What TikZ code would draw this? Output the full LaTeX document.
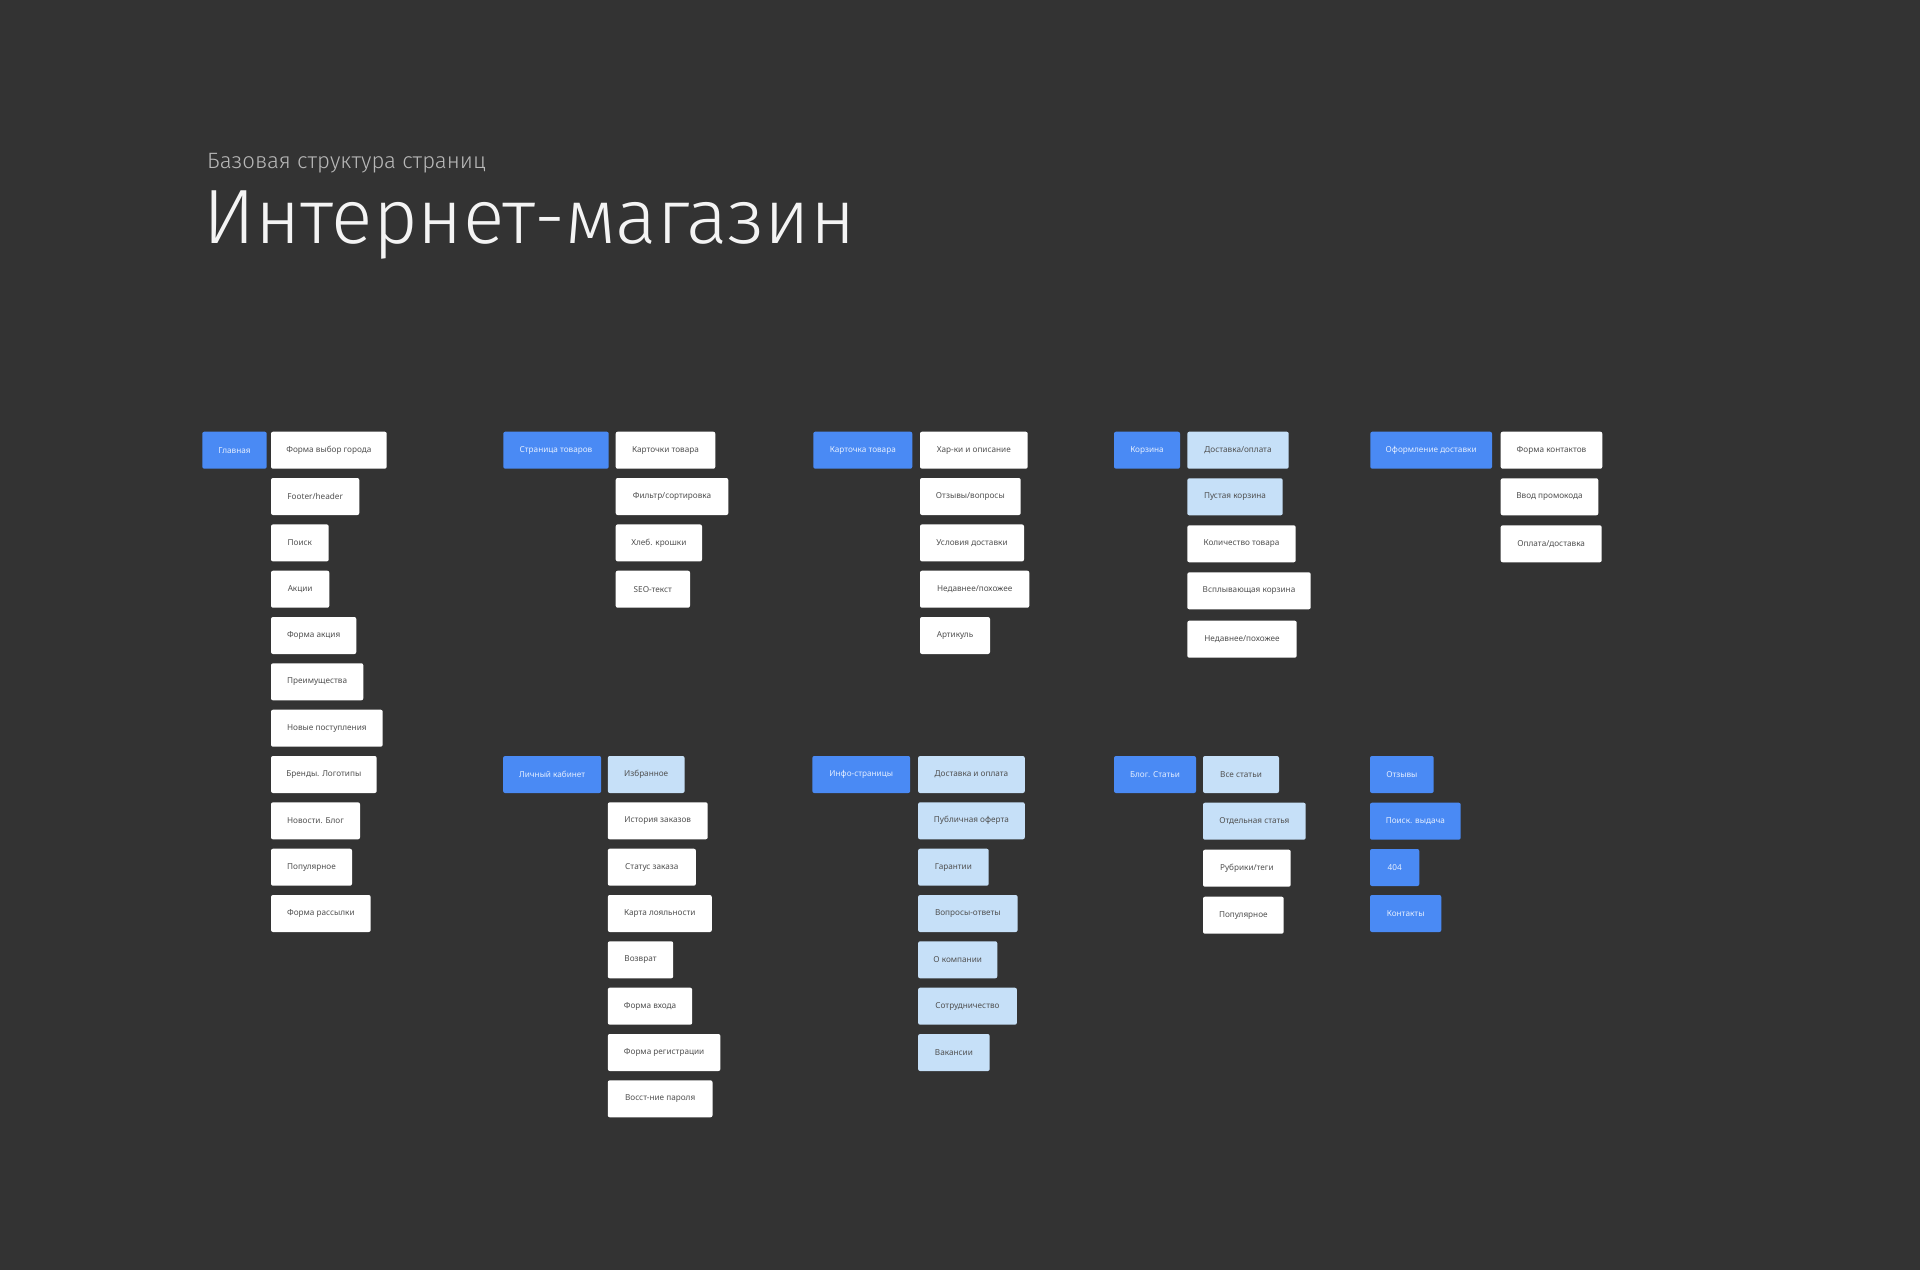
\documentclass[tikz,border=0pt]{standalone}
\usepackage{fontspec}
\setmainfont{Noto Sans}
\newfontfamily\titlefont{Fira Sans Light}
\definecolor{bg}{HTML}{333333}
\definecolor{mainblue}{HTML}{4A8AF4}
\definecolor{lightblue}{HTML}{C6E0F8}
\definecolor{boxtext}{HTML}{505050}
\definecolor{bluetext}{HTML}{E4EEFF}
\definecolor{subtext}{HTML}{B8B8B8}
\definecolor{titletext}{HTML}{F4F4F4}
\newcommand\bx[6]{\node[#2, minimum width={(#4-#3)*1pt}, anchor=north west] (#1) at (#3,#5+1) {#6};}
\begin{document}
\begin{tikzpicture}[x=1pt,y=-1pt,
  box/.style={rectangle, rounded corners=2pt, minimum height=37pt, inner sep=0pt, outer sep=0pt,
    font=\fontsize{8.2}{10}\selectfont, text=boxtext},
  mainbox/.style={box, fill=mainblue, text=bluetext},
  lightbox/.style={box, fill=lightblue},
  whitebox/.style={box, fill=white}]
\fill[bg] (0,0) rectangle (1920,1270);
\useasboundingbox (0,0) rectangle (1920,1270);

\node[anchor=base west, text=subtext, font=\titlefont\fontsize{22.2}{26}\selectfont, inner sep=0pt] (subtitle) at (207,168) {Базовая структура страниц};
\node[anchor=base west, text=titletext, font=\titlefont\fontsize{77}{82}\selectfont, inner sep=0pt] (title) at (203,243) {Интернет-магазин};

% Column 1: Главная
\bx{glav}{mainbox}{202.3}{266.7}{430.7}{Главная}
\bx{g0}{whitebox}{271}{386.7}{430.7}{Форма выбор города}
\bx{g1}{whitebox}{271}{359.3}{477.0}{Footer/header}
\bx{g2}{whitebox}{271}{328.7}{523.4}{Поиск}
\bx{g3}{whitebox}{271}{329.3}{569.7}{Акции}
\bx{g4}{whitebox}{271}{356.3}{616.0}{Форма акция}
\bx{g5}{whitebox}{271}{363.3}{662.3}{Преимущества}
\bx{g6}{whitebox}{271}{382.7}{708.7}{Новые поступления}
\bx{g7}{whitebox}{271}{376.7}{755.0}{Бренды. Логотипы}
\bx{g8}{whitebox}{271}{360.0}{801.3}{Новости. Блог}
\bx{g9}{whitebox}{271}{352.0}{847.7}{Популярное}
\bx{g10}{whitebox}{271}{370.7}{894.0}{Форма рассылки}

% Column 2: Страница товаров
\bx{str}{mainbox}{503.3}{608.7}{430.7}{Страница товаров}
\bx{s0}{whitebox}{615.7}{715.3}{430.7}{Карточки товара}
\bx{s1}{whitebox}{615.7}{728.3}{477.0}{Фильтр/сортировка}
\bx{s2}{whitebox}{615.7}{702.0}{523.4}{Хлеб. крошки}
\bx{s3}{whitebox}{615.7}{690.0}{569.7}{SEO-текст}

% Column 3: Карточка товара
\bx{kart}{mainbox}{813.3}{912.3}{430.7}{Карточка товара}
\bx{k0}{whitebox}{920}{1027.7}{430.7}{Хар-ки и описание}
\bx{k1}{whitebox}{920}{1020.7}{477.0}{Отзывы/вопросы}
\bx{k2}{whitebox}{920}{1024.0}{523.4}{Условия доставки}
\bx{k3}{whitebox}{920}{1029.3}{569.7}{Недавнее/похожее}
\bx{k4}{whitebox}{920}{990.0}{616.0}{Артикуль}

% Column 4: Корзина
\bx{korz}{mainbox}{1114}{1180}{430.7}{Корзина}
\bx{z0}{lightbox}{1187.3}{1288.7}{430.7}{Доставка/оплата}
\bx{z1}{lightbox}{1187.3}{1282.7}{477.3}{Пустая корзина}
\bx{z2}{whitebox}{1187.3}{1295.7}{524.3}{Количество товара}
\bx{z3}{whitebox}{1187.3}{1310.7}{571.3}{Всплывающая корзина}
\bx{z4}{whitebox}{1187.3}{1296.7}{619.7}{Недавнее/похожее}

% Column 5: Оформление доставки
\bx{ofor}{mainbox}{1370.3}{1492}{430.7}{Оформление доставки}
\bx{o0}{whitebox}{1500.7}{1602.3}{430.7}{Форма контактов}
\bx{o1}{whitebox}{1500.7}{1598.3}{477.3}{Ввод промокода}
\bx{o2}{whitebox}{1500.7}{1601.7}{524.3}{Оплата/доставка}

% Row 2: Личный кабинет
\bx{lk}{mainbox}{503.1}{601.2}{755}{Личный кабинет}
\bx{l0}{lightbox}{607.8}{684.6}{755.0}{Избранное}
\bx{l1}{whitebox}{607.8}{707.7}{801.3}{История заказов}
\bx{l2}{whitebox}{607.8}{695.9}{847.7}{Статус заказа}
\bx{l3}{whitebox}{607.8}{711.8}{894.0}{Карта лояльности}
\bx{l4}{whitebox}{607.8}{673.2}{940.3}{Возврат}
\bx{l5}{whitebox}{607.8}{692.2}{986.7}{Форма входа}
\bx{l6}{whitebox}{607.8}{720.4}{1033.0}{Форма регистрации}
\bx{l7}{whitebox}{607.8}{712.5}{1079.3}{Восст-ние пароля}

% Инфо-страницы
\bx{info}{mainbox}{812.3}{910.2}{755}{Инфо-страницы}
\bx{i0}{lightbox}{918.1}{1024.8}{755.0}{Доставка и оплата}
\bx{i1}{lightbox}{918.1}{1024.8}{801.3}{Публичная оферта}
\bx{i2}{lightbox}{918.1}{988.7}{847.7}{Гарантии}
\bx{i3}{lightbox}{918.1}{1017.6}{894.0}{Вопросы-ответы}
\bx{i4}{lightbox}{918.1}{997.3}{940.3}{О компании}
\bx{i5}{lightbox}{918.1}{1016.9}{986.7}{Сотрудничество}
\bx{i6}{lightbox}{918.1}{989.7}{1033.0}{Вакансии}

% Блог. Статьи
\bx{blog}{mainbox}{1114}{1196}{755}{Блог. Статьи}
\bx{b0}{lightbox}{1203}{1279.0}{755.0}{Все статьи}
\bx{b1}{lightbox}{1203}{1305.7}{801.7}{Отдельная статья}
\bx{b2}{whitebox}{1203}{1290.7}{848.7}{Рубрики/теги}
\bx{b3}{whitebox}{1203}{1283.7}{895.7}{Популярное}

% Right column
\bx{otz}{mainbox}{1370}{1433.7}{755.0}{Отзывы}
\bx{poisk}{mainbox}{1370}{1460.7}{801.7}{Поиск. выдача}
\bx{e404}{mainbox}{1370}{1419.3}{848.0}{404}
\bx{kont}{mainbox}{1370}{1441.3}{894.0}{Контакты}
\end{tikzpicture}
\end{document}
